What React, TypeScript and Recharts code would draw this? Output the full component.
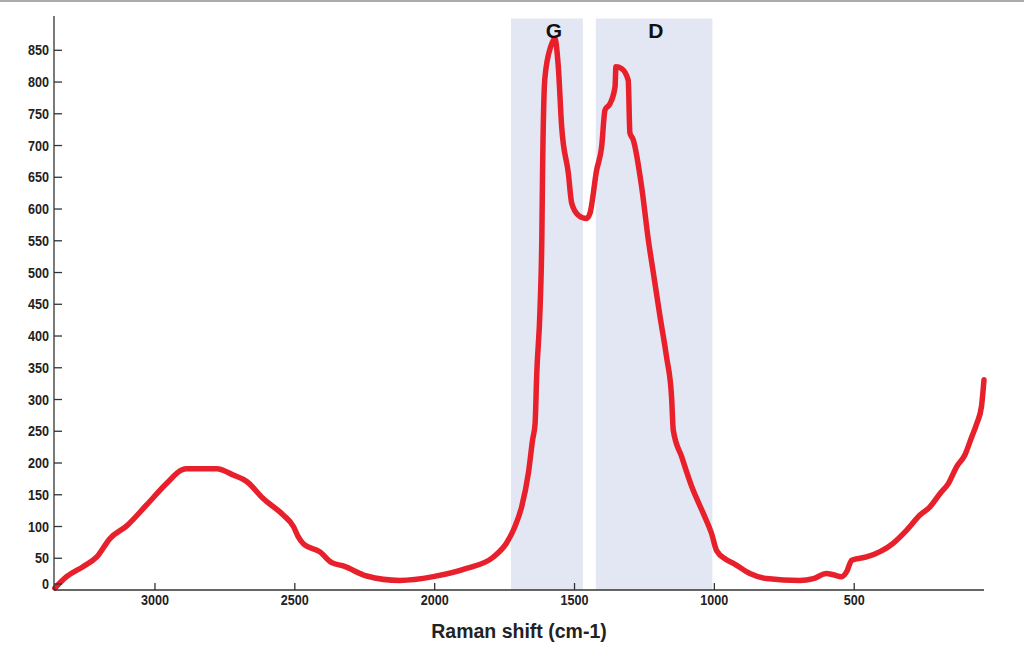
import { LineChart, Line, XAxis, YAxis, ReferenceArea, ReferenceDot } from "recharts";

// Raman spectrum (shift in cm-1, intensity in counts)
const shift = [
  3358, 3316, 3256, 3208, 3161, 3101, 3030, 2958, 2905, 2887, 2779, 2720, 2672, 2613,
  2541, 2505, 2488, 2470, 2410, 2368, 2327, 2243, 2124, 2005, 1886, 1790, 1743, 1713,
  1689, 1665, 1650, 1641, 1635, 1623, 1617, 1614, 1606, 1585, 1570, 1558, 1546, 1522,
  1510, 1486, 1457, 1445, 1421, 1403, 1391, 1373, 1355, 1352, 1331, 1308, 1302, 1290,
  1260, 1236, 1218, 1194, 1171, 1153, 1147, 1117, 1081, 1040, 1010, 992, 958, 932,
  873, 813, 694, 646, 599, 575, 545, 527, 509, 456, 360, 313, 265, 229, 193, 163, 134,
  104, 80, 62, 45, 36,
];
const intensity = [
  3, 21, 37, 52, 81, 101, 134, 168, 189, 191, 191, 181, 171, 144,
  118, 100, 84, 73, 60, 43, 38, 22, 15, 21, 34, 52, 74, 100,
  131, 184, 236, 262, 341, 446, 551, 667, 806, 856, 868, 824, 730, 656,
  609, 590, 585, 593, 661, 698, 756, 766, 793, 824, 821, 803, 720, 709,
  635, 551, 499, 430, 367, 304, 252, 210, 163, 121, 89, 62, 48, 42,
  26, 18, 15, 18, 26, 24, 21, 29, 47, 52, 74, 94, 118, 131, 152, 168, 194,
  213, 241, 262, 289, 331,
];

const xTicks = [3000, 2500, 2000, 1500, 1000, 500];
const yTicks = [0, 50, 100, 150, 200, 250, 300, 350, 400, 450, 500, 550, 600, 650, 700, 750, 800, 850];

const bandNames = ["G", "D"];
const bandFrom = [1727, 1424];
const bandTo = [1470, 1007];
const bandLabelAt = [1574, 1209];

const data = shift.map((s, i) => ({ shift: s, intensity: intensity[i] }));

const AXIS = "#333";
const TEXT = "#222";
const FONT = "Liberation Sans, Arial, sans-serif";

function YTick({ x, y, payload }: any) {
  const dy = payload.value === 0 ? -6 : 0;
  return (
    <g>
      <line x1={x} x2={x + 8} y1={y + dy} y2={y + dy} stroke={AXIS} strokeWidth={1.3} />
      <text x={x - 5} y={y + dy} dy="0.36em" textAnchor="end" fontSize={14} fontWeight="bold" fill={TEXT}
        fontFamily={FONT} transform={`translate(${x - 5} 0) scale(0.9 1) translate(${-(x - 5)} 0)`}>
        {payload.value}
      </text>
    </g>
  );
}

function XTick({ x, y, payload }: any) {
  return (
    <g>
      <line x1={x} x2={x} y1={y} y2={y - 7} stroke={AXIS} strokeWidth={1.3} />
      <text x={x} y={y + 15} textAnchor="middle" fontSize={14} fontWeight="bold" fill={TEXT}
        fontFamily={FONT} transform={`translate(${x} 0) scale(0.9 1) translate(${-x} 0)`}>
        {payload.value}
      </text>
    </g>
  );
}

export default function App() {
  return (
    <div style={{ position: "absolute", left: 0, top: 0, width: 1024, height: 647, background: "#fff" }}>
      <div style={{ position: "absolute", left: 0, top: 0, width: 1024, height: 2, background: "#ababab" }} />
      <LineChart width={1024} height={647} data={data} margin={{ top: 16, right: 40, bottom: 0, left: 0 }}>
        <XAxis
          dataKey="shift"
          type="number"
          domain={[36, 3361]}
          reversed
          ticks={xTicks}
          tickSize={0}
          tickMargin={0}
          tickLine={false}
          tick={<XTick />}
          height={57}
          stroke={AXIS}
          strokeWidth={1.3}
          label={{
            value: "Raman shift (cm-1)",
            position: "insideBottom",
            offset: 9,
            fontSize: 19.5,
            fontWeight: "bold",
            fill: TEXT,
            fontFamily: FONT,
          }}
        />
        <YAxis
          type="number"
          domain={[0, 904]}
          ticks={yTicks}
          tickSize={0}
          tickMargin={0}
          tickLine={false}
          tick={<YTick />}
          width={54}
          stroke={AXIS}
          strokeWidth={1.3}
          interval={0}
        />
        {bandNames.map((n, i) => (
          <ReferenceArea key={n} x1={bandFrom[i]} x2={bandTo[i]} y1={0} y2={900} fill="#e3e7f3" fillOpacity={1} stroke="none" />
        ))}
        {bandNames.map((n, i) => (
          <ReferenceDot
            key={"l" + n}
            x={bandLabelAt[i]}
            y={881}
            r={0}
            stroke="none"
            label={{ value: n, position: "center", fontSize: 21, fontWeight: "bold", fill: "#111", fontFamily: FONT }}
          />
        ))}
        <Line
          type="monotone"
          dataKey="intensity"
          stroke="#e8202b"
          strokeWidth={5.5}
          strokeLinejoin="round"
          strokeLinecap="round"
          dot={false}
          activeDot={false}
          isAnimationActive={false}
        />
      </LineChart>
    </div>
  );
}
